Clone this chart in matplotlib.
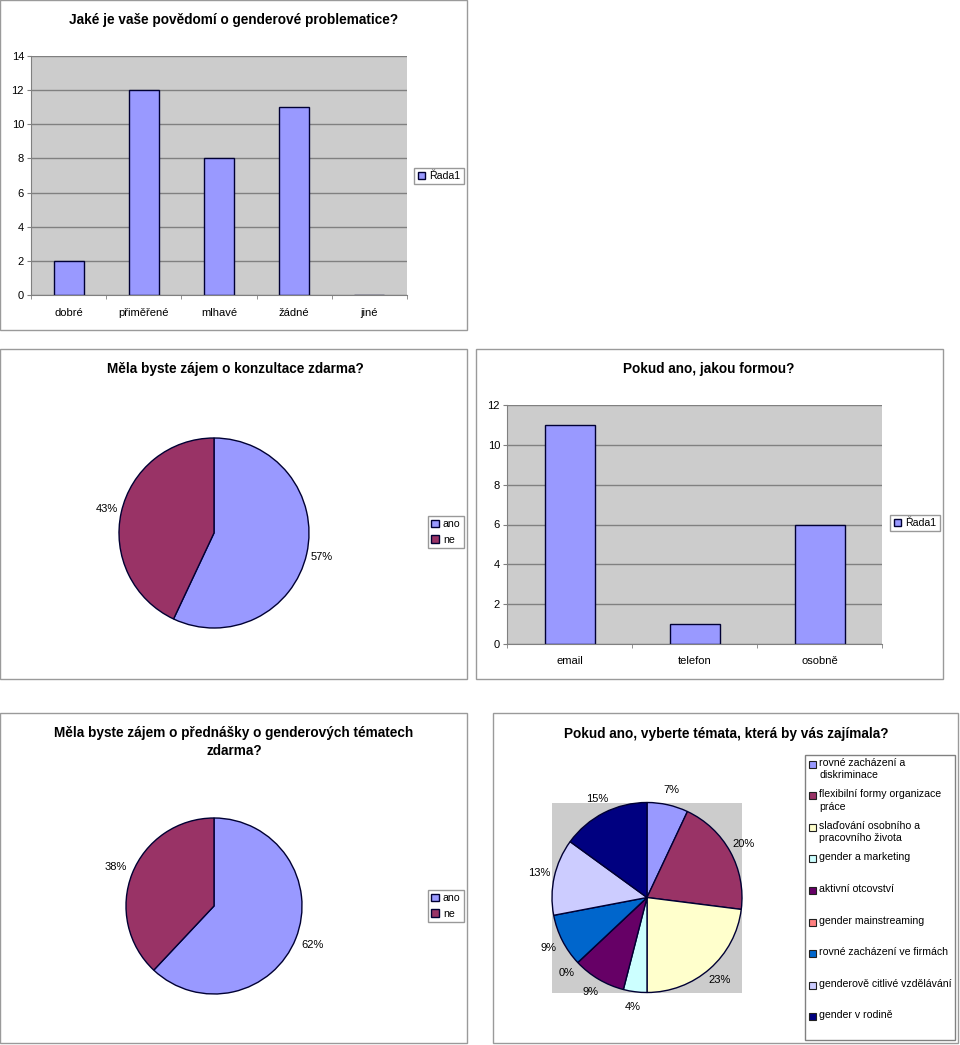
import numpy as np
import matplotlib
matplotlib.use('Agg')
import matplotlib.pyplot as plt
from matplotlib.patches import Rectangle

plt.rcParams['font.family'] = ['Liberation Sans', 'DejaVu Sans']

# ---------------- data ----------------
awareness_title = 'Jaké je vaše povědomí o genderové problematice?'
awareness_cats = ['dobré', 'přiměřené', 'mlhavé', 'žádné', 'jiné']
awareness_vals = [2, 12, 8, 11, 0]

consult_title = 'Měla byste zájem o konzultace zdarma?'
yesno_labels = ['ano', 'ne']
consult_vals = [57, 43]

form_title = 'Pokud ano, jakou formou?'
form_cats = ['email', 'telefon', 'osobně']
form_vals = [11, 1, 6]

lecture_title = 'Měla byste zájem o přednášky o genderových tématech\nzdarma?'
lecture_vals = [62, 38]

topic_title = 'Pokud ano, vyberte témata, která by vás zajímala?'
topic_labels = ['rovné zacházení a\ndiskriminace',
                'flexibilní formy organizace\npráce',
                'slaďování osobního a\npracovního života',
                'gender a marketing',
                'aktivní otcovství',
                'gender mainstreaming',
                'rovné zacházení ve firmách',
                'genderově citlivé vzdělávání',
                'gender v rodině']
topic_vals = [7, 20, 23, 4, 9, 0, 9, 13, 15]

series_name = 'Řada1'

# ---------------- style ----------------
BAR_COLOR = '#9999FF'
EDGE = '#000033'
PIE2 = ['#9999FF', '#993366']
TOPIC_COLORS = ['#9999FF', '#993366', '#FFFFCC', '#CCFFFF', '#660066',
                '#FF8080', '#0066CC', '#CCCCFF', '#000080']
PLOT_BG = '#CCCCCC'
GRID = '#808080'
FRAME = '#9A9A9A'
TITLE_FS = 9.8
FS = 8
BOX_FS = 7.6
LEG_FS = 7.6

W, H = 960, 1045
fig = plt.figure(figsize=(W / 100, H / 100), dpi=100)


def box(x0, y0, x1, y1):
    return [x0 / W, 1 - y1 / H, (x1 - x0) / W, (y1 - y0) / H]


def fx(x):
    return x / W


def fy(y):
    return 1 - y / H


def frame(x0, y0, x1, y1, color=FRAME):
    fig.patches.append(Rectangle((fx(x0), fy(y1)), (x1 - x0) / W, (y1 - y0) / H,
                                 transform=fig.transFigure, fill=False,
                                 edgecolor=color, lw=1))


def title(x, y, s, **kw):
    fig.text(fx(x), fy(y), s, ha='center', va='center', fontsize=TITLE_FS,
             fontweight='bold', **kw)


def bar_chart(rect, cats, vals, ymax, legend_center):
    ax = fig.add_axes(box(*rect))
    ax.set_facecolor(PLOT_BG)
    x = np.arange(len(cats))
    bars = ax.bar(x, vals, width=0.4, color=BAR_COLOR, edgecolor=EDGE, lw=1,
                  label=series_name, zorder=2)
    ax.set_xlim(-0.5, len(cats) - 0.5)
    ax.set_ylim(0, ymax)
    ax.set_yticks(range(0, ymax + 1, 2))
    ax.yaxis.grid(True, color=GRID, lw=1)
    ax.set_axisbelow(True)
    ax.set_xticks(x)
    ax.set_xticklabels(cats)
    ax.set_xticks(np.arange(len(cats) + 1) - 0.5, minor=True)
    ax.tick_params(axis='x', which='major', length=0, pad=9, labelsize=FS)
    ax.tick_params(axis='x', which='minor', length=3, color=GRID)
    ax.tick_params(axis='y', length=3, color=GRID, labelsize=FS, pad=2)
    for s in ['top', 'right']:
        ax.spines[s].set_visible(False)
    for s in ['left', 'bottom']:
        ax.spines[s].set_color(GRID)
        ax.spines[s].set_zorder(3)
    fig.legend(handles=[bars], labels=[series_name], loc='center',
               bbox_to_anchor=(fx(legend_center[0]), fy(legend_center[1])),
               frameon=True, fancybox=False, edgecolor='#808080', fontsize=BOX_FS,
               handlelength=0.7, handleheight=0.7, handletextpad=0.4,
               borderpad=0.3, borderaxespad=0)
    return ax


def pie_chart(rect, vals, colors, pctdist, bg=None):
    ax = fig.add_axes(box(*rect))
    wedges, texts, autotexts = ax.pie(
        vals, colors=colors, startangle=90, counterclock=False,
        autopct=lambda p: f'{p:.0f}%', pctdistance=pctdist, frame=True,
        wedgeprops=dict(edgecolor=EDGE, lw=1),
        textprops=dict(fontsize=FS))
    ax.set_xlim(-1, 1)
    ax.set_ylim(-1, 1)
    ax.set_aspect('equal')
    ax.set_xticks([])
    ax.set_yticks([])
    for s in ax.spines.values():
        s.set_visible(False)
    if bg:
        ax.set_facecolor(bg)
    else:
        ax.patch.set_alpha(0)
    return ax, wedges


def yesno_legend(handles, center):
    fig.legend(handles=handles, labels=yesno_labels, loc='center',
               bbox_to_anchor=(fx(center[0]), fy(center[1])), frameon=True,
               fancybox=False, edgecolor='#808080', fontsize=BOX_FS,
               handlelength=0.7, handleheight=0.7, handletextpad=0.4,
               borderpad=0.3, labelspacing=0.5, borderaxespad=0)


# ---------------- panel 1 ----------------
frame(0, 0, 467, 330)
title(234, 20, awareness_title)
bar_chart((31, 56, 407, 295), awareness_cats, awareness_vals, 14, (439, 176))

# ---------------- panel 2 ----------------
frame(0, 349, 467, 679)
title(235, 369, consult_title)
ax2, w2 = pie_chart((119, 438, 309, 628), consult_vals, PIE2, 1.16)
yesno_legend(w2, (446, 532))

# ---------------- panel 3 ----------------
frame(476, 349, 943, 679)
title(709, 369, form_title)
bar_chart((507, 405, 882, 644), form_cats, form_vals, 12, (915, 523))

# ---------------- panel 4 ----------------
frame(0, 713, 467, 1043)
title(234, 742, lecture_title, linespacing=1.4)
ax4, w4 = pie_chart((126, 818, 302, 994), lecture_vals, PIE2, 1.2)
yesno_legend(w4, (446, 906))

# ---------------- panel 5 ----------------
frame(493, 713, 958, 1043)
title(726, 734, topic_title)
ax5, w5 = pie_chart((552, 802, 742, 993), topic_vals, TOPIC_COLORS, 1.16, bg=PLOT_BG)

# legend (manual, to keep Excel-like uniform rows)
frame(805, 755, 955, 1040, color='#808080')
for i, (lab, col) in enumerate(zip(topic_labels, TOPIC_COLORS)):
    yc = 764 + i * 31.6
    fig.patches.append(Rectangle((fx(809), fy(yc + 3.5)), 7 / W, 7 / H,
                                 transform=fig.transFigure, facecolor=col,
                                 edgecolor='#202020', lw=0.8))
    fig.text(fx(819), fy(yc - 6.5), lab, ha='left', va='top', fontsize=LEG_FS,
             linespacing=1.3)

fig.savefig('out.png', dpi=100, facecolor='white')
